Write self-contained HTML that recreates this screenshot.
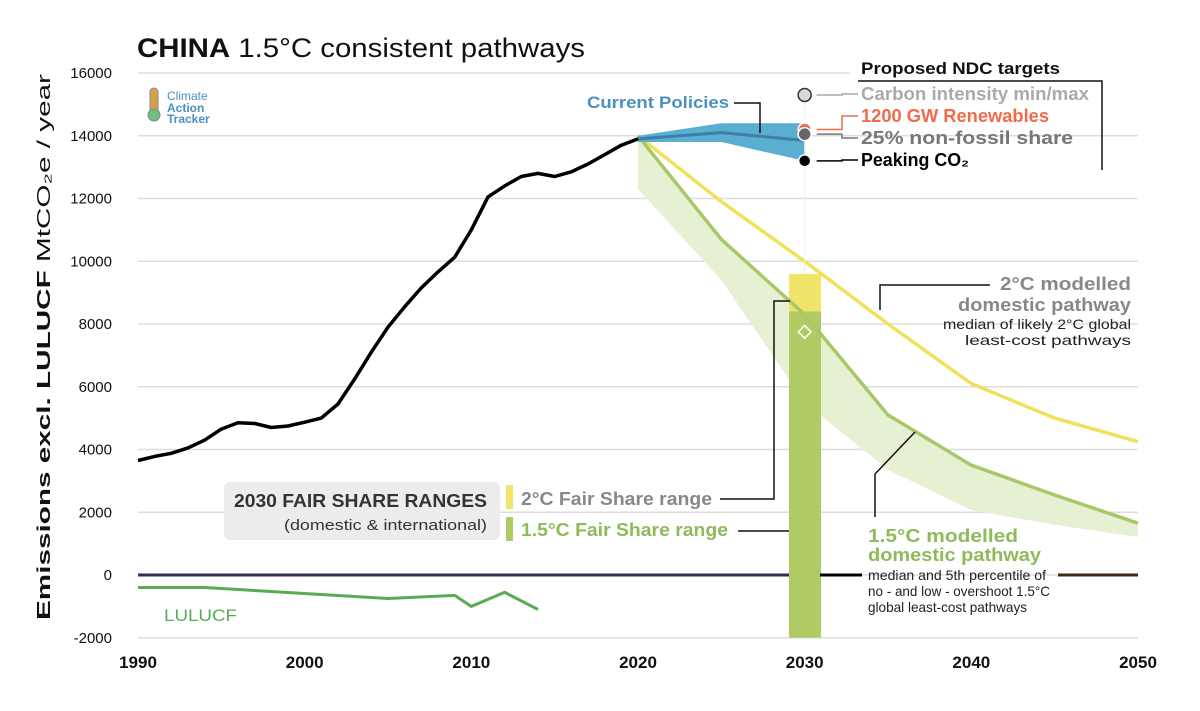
<!DOCTYPE html>
<html><head><meta charset="utf-8"><style>
body{margin:0;background:#fff;font-family:"Liberation Sans",sans-serif}
svg text{font-family:"Liberation Sans",sans-serif}
</style></head><body>
<svg id="c" width="1200" height="706" viewBox="0 0 1200 706"></svg>
<script>
const histYears=[1990,1991,1992,1993,1994,1995,1996,1997,1998,1999,2000,2001,2002,2003,2004,2005,2006,2007,2008,2009,2010,2011,2012,2013,2014,2015,2016,2017,2018,2019,2020];
const histVals=[3650,3780,3880,4050,4300,4650,4850,4830,4700,4750,4870,5000,5450,6250,7100,7900,8550,9150,9660,10130,11000,12050,12400,12700,12800,12700,12850,13100,13400,13700,13900];
const cpYears=[2020,2025,2030];
const cpMid=[13900,14100,13850];
const cpHigh=[14000,14400,14400];
const cpLow=[13800,13800,13200];
const pathYears=[2020,2025,2030,2035,2040,2045,2050];
const twoC=[14000,11900,10000,8000,6100,5000,4250];
const onefive=[14000,10700,8300,5100,3500,2550,1650];
const onefiveLow=[12300,9400,5500,3350,2070,1600,1210];
const lulYears=[1990,1994,2005,2009,2010,2012,2014];
const lulVals=[-400,-400,-750,-650,-1000,-550,-1100];
const fair2C=[8400,9600];
const fair15=[-2000,8400];
const diamondVal=7750;
const ndcLabels=["Carbon intensity min/max","1200 GW Renewables","25% non-fossil share","Peaking CO₂"];
const ndcVals=[15300,14200,14050,13200];
const yTicks=[-2000,0,2000,4000,6000,8000,10000,12000,14000,16000];
const xTicks=[1990,2000,2010,2020,2030,2040,2050];

const svg=document.getElementById('c');
const NS='http://www.w3.org/2000/svg';
const X=y=>138+(y-1990)*1000/60;
const Y=v=>575-v*0.031375;
function el(tag,attrs,parent){const e=document.createElementNS(NS,tag);for(const k in attrs)e.setAttribute(k,attrs[k]);(parent||svg).appendChild(e);return e;}
function txt(s,attrs,len){const t=el('text',attrs);t.textContent=s;if(len){t.setAttribute('textLength',len);t.setAttribute('lengthAdjust','spacingAndGlyphs');}return t;}
function pts(xs,vs){return xs.map((y,i)=>X(y).toFixed(1)+','+Y(vs[i]).toFixed(1)).join(' ');}

// grid
yTicks.forEach(v=>{
  const g=el('line',{x1:138,x2:v==16000?850:1138,y1:Y(v),y2:Y(v),stroke:'#ddd','stroke-width':1.5});
  
  
  const t=txt(String(v),{x:112,y:Y(v)+5,'text-anchor':'end','font-size':15,fill:'#111'});
  
  
});
xTicks.forEach(y=>{
  const t=txt(String(y),{x:X(y),y:668,'text-anchor':'middle','font-size':17,'font-weight':'bold',fill:'#111'});
  
  
});
// y axis title
const yt=txt('',{transform:'translate(50,347) rotate(-90)','text-anchor':'middle','font-size':18,fill:'#111'});
yt.innerHTML='<tspan font-weight="bold">Emissions excl. LULUCF</tspan> MtCO₂e / year';
yt.setAttribute('textLength',546);yt.setAttribute('lengthAdjust','spacingAndGlyphs');


// title
const tt=txt('',{x:137,y:57,'font-size':27,fill:'#111'});
tt.innerHTML='<tspan font-weight="bold">CHINA</tspan> 1.5°C consistent pathways';
tt.setAttribute('textLength',448);tt.setAttribute('lengthAdjust','spacingAndGlyphs');


// logo
const lg=el('g',{});


el('rect',{x:150,y:88,width:8,height:25,rx:4,fill:'#d9a04a',stroke:'#888'},lg);
el('circle',{cx:154,cy:115,r:6,fill:'#6cc07f',stroke:'#888'},lg);
[['Climate',97,'normal'],['Action',109,'bold'],['Tracker',120,'bold']].forEach(a=>{const t=el('text',{x:167,y:a[1]+3,'font-size':12,'font-weight':a[2],fill:'#4a90c0'},lg);t.textContent=a[0];});

// zero line
const z=el('line',{x1:138,x2:862,y1:Y(0),y2:Y(0),stroke:'#3a2a5a','stroke-width':3});


// 1.5 band
const band=el('polygon',{points:pts(pathYears,onefive)+' '+pts(pathYears.slice().reverse(),onefiveLow.slice().reverse()),fill:'#e6f0d2'});

// fair share bars
const b1=el('rect',{x:789,width:32,y:Y(fair2C[1]),height:Y(fair2C[0])-Y(fair2C[1]),fill:'#f0e46a'});

const b2=el('rect',{x:789,width:32,y:Y(fair15[1]),height:Y(fair15[0])-Y(fair15[1]),fill:'#b0cb63'});

const dm=el('rect',{x:X(2030)-4.5,y:Y(diamondVal)-4.5,width:9,height:9,fill:'none',stroke:'#fff','stroke-width':1.5,transform:`rotate(45 ${X(2030)} ${Y(diamondVal)})`});


// lines
const l2=el('polyline',{points:pts(pathYears,twoC),fill:'none',stroke:'#f0e05a','stroke-width':3.5});

const l15=el('polyline',{points:pts(pathYears,onefive),fill:'none',stroke:'#a8c868','stroke-width':3.5});

// current policies
const cpb=el('polygon',{points:pts(cpYears,cpHigh)+' '+pts(cpYears.slice().reverse(),cpLow.slice().reverse()),fill:'#5aafd0'});

const cpl=el('polyline',{points:pts(cpYears,cpMid),fill:'none',stroke:'#3f7ea8','stroke-width':3});

// history
const h=el('polyline',{points:pts(histYears,histVals),fill:'none',stroke:'#000','stroke-width':3.5,'stroke-linejoin':'round'});

const lu=el('polyline',{points:pts(lulYears,lulVals),fill:'none',stroke:'#5aaa55','stroke-width':3});

const lut=txt('LULUCF',{x:164,y:621,'font-size':17,fill:'#5aaa55'},73);


// NDC
el('line',{x1:X(2030),x2:X(2030),y1:Y(15300),y2:Y(9600),stroke:'#eee','stroke-width':1});
const ndcFill=['#d8d8d8','#f26a4a','#666','#000'];
const ndcText=['#aaa','#f26a4a','#777','#000'];
const ndcTy=[100,122,144,166];
const ndcLen=[228,188,212,108];
ndcVals.forEach((v,i)=>{
  const c=el('circle',{cx:X(2030),cy:Y(v),r:i==3?6:6.5,fill:ndcFill[i],stroke:i==0?'#333':'#fff','stroke-width':1.5});
  
  el('polyline',{points:`${X(2030)+12},${Y(v)} 842,${Y(v)} 842,${ndcTy[i]-6} 858,${ndcTy[i]-6}`,fill:'none',stroke:ndcText[i],'stroke-width':1.5});
  const t=txt(ndcLabels[i],{x:861,y:ndcTy[i],'font-size':18,'font-weight':'bold',fill:ndcText[i]},ndcLen[i]);
  
});
const nh=txt('Proposed NDC targets',{x:861,y:74,'font-size':17,'font-weight':'bold',fill:'#111'},199);

el('polyline',{points:'858,81 1102,81 1102,170',fill:'none',stroke:'#111','stroke-width':1.5});

// current policies label
const cpt=txt('Current Policies',{x:587,y:108,'font-size':17,'font-weight':'bold',fill:'#4a90c0'},142);

el('polyline',{points:'734,103 760,103 760,133',fill:'none',stroke:'#111','stroke-width':1.5});

// 2C annotation
el('polyline',{points:'880,310 880,285 990,285',fill:'none',stroke:'#111','stroke-width':1.5});
[['2°C modelled',290,18,'bold','#888',131],['domestic pathway',311,18,'bold','#888',173],['median of likely 2°C global',329,14,'normal','#222',188],['least-cost pathways',345,14,'normal','#222',166]].forEach(a=>{
  const t=txt(a[0],{x:1131,y:a[1],'text-anchor':'end','font-size':a[2],'font-weight':a[3],fill:a[4]},a[5]);
  
});
// 1.5 annotation
el('polyline',{points:'915,432 875,474 875,517',fill:'none',stroke:'#111','stroke-width':1.5});
[['1.5°C modelled',542,18,'bold','#8fba5a',150],['domestic pathway',561,18,'bold','#8fba5a',173],['median and 5th percentile of',580,14,'normal','#222',178],['no - and low - overshoot 1.5°C',596,14,'normal','#222',182],['global least-cost pathways',612,14,'normal','#222',159]].forEach(a=>{
  const t=txt(a[0],{x:868,y:a[1],'font-size':a[2],'font-weight':a[3],fill:a[4]},a[5]);
  
});
el('line',{x1:820,x2:862,y1:Y(0),y2:Y(0),stroke:'#000','stroke-width':3});
el('line',{x1:1058,x2:1138,y1:Y(0),y2:Y(0),stroke:'#3a2a1a','stroke-width':3});

// fair share box
const fb=el('rect',{x:224,y:482,width:276,height:58,rx:6,fill:'#ececec'});

txt('2030 FAIR SHARE RANGES',{x:234,y:507,'font-size':18,'font-weight':'bold',fill:'#333'},253);
txt('(domestic & international)',{x:284,y:530,'font-size':15,fill:'#333'},203);
el('rect',{x:506,y:485,width:7,height:24,fill:'#f0e46a'});
el('rect',{x:506,y:517,width:7,height:24,fill:'#b0cb63'});
const f1=txt('2°C Fair Share range',{x:521,y:505,'font-size':18,'font-weight':'bold',fill:'#888'},191);

const f2=txt('1.5°C Fair Share range',{x:521,y:536,'font-size':18,'font-weight':'bold',fill:'#8fba5a'},207);

el('polyline',{points:'720,499 774,499 774,301 790,301',fill:'none',stroke:'#111','stroke-width':1.5});
el('line',{x1:738,x2:789,y1:531,y2:531,stroke:'#111','stroke-width':1.5});
</script>
</body></html>
